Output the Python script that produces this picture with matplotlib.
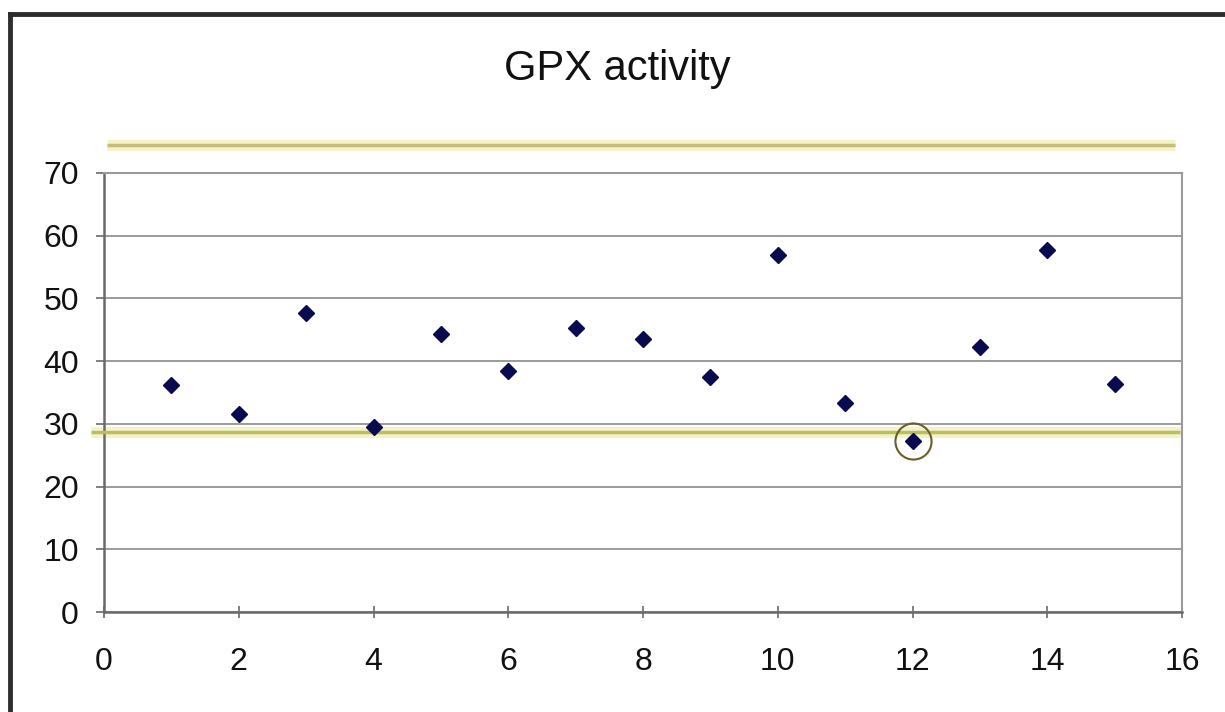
import matplotlib
matplotlib.use("Agg")
import matplotlib.pyplot as plt
from matplotlib.lines import Line2D

plt.rcParams['font.family'] = ['Liberation Sans', 'DejaVu Sans']

# Data
sample = [1, 2, 3, 4, 5, 6, 7, 8, 9, 10, 11, 12, 13, 14, 15]
gpx = [36.2, 31.6, 47.7, 29.5, 44.3, 38.4, 45.3, 43.5, 37.5, 56.9, 33.3, 27.3, 42.3, 57.7, 36.4]
upper_limit = 74.5
lower_limit = 28.7
highlight_x = 12
highlight_y = 27.3
title = "GPX activity"
xticks = [0, 2, 4, 6, 8, 10, 12, 14, 16]
yticks = [0, 10, 20, 30, 40, 50, 60, 70]

fig = plt.figure(figsize=(12.25, 7.12), dpi=100)
ax = fig.add_axes([104/1225, 1-612/712, (1182-104)/1225, (612-173)/712])

ax.set_xlim(0, 16)
ax.set_ylim(0, 70)
ax.set_xticks(xticks)
ax.set_yticks(yticks)
ax.yaxis.grid(True, color='#8a8a8a', linewidth=1.2)
ax.set_axisbelow(True)

for s in ['top', 'right']:
    ax.spines[s].set_color('#9a9a9a')
    ax.spines[s].set_linewidth(1.5)
for s in ['left', 'bottom']:
    ax.spines[s].set_color('#6a6a6a')
    ax.spines[s].set_linewidth(1.8)

ax.tick_params(axis='y', direction='out', length=6, width=1.2, color='#6a6a6a',
               labelsize=23, pad=12, labelcolor='#111111')
ax.tick_params(axis='x', direction='inout', length=8, width=1.2, color='#6a6a6a',
               labelsize=23, pad=21, labelcolor='#111111')

# threshold lines (glow + line)
for yv, x0, x1, c in [(upper_limit, 0.05, 15.9, '#c4bc78'), (lower_limit, -0.2, 15.97, '#b9bf5c')]:
    ax.plot([x0, x1], [yv, yv], color='#f4f2c8', linewidth=8, clip_on=False, zorder=2, solid_capstyle='butt')
    ax.plot([x0, x1], [yv, yv], color=c, linewidth=2.5, clip_on=False, zorder=3, solid_capstyle='butt')

ax.plot(sample, gpx, linestyle='none', marker='D', markersize=8.5,
        color='#0a0a50', zorder=5)
ax.plot([highlight_x], [highlight_y], linestyle='none', marker='o', markersize=26,
        markerfacecolor='none', markeredgecolor='#6b5e2c', markeredgewidth=1.5, zorder=6)

fig.text(617/1225, 1-80/712, title, ha='center', va='baseline', fontsize=30, color='#111111')

# outer chart frame (top and left visible)
fig.add_artist(Line2D([10/1225, 1.0], [1-14/712, 1-14/712], color='#2e2e2e', linewidth=3.5,
                      transform=fig.transFigure))
fig.add_artist(Line2D([10/1225, 10/1225], [1-14/712, 0.0], color='#2e2e2e', linewidth=3.5,
                      transform=fig.transFigure))

fig.savefig('out.png', dpi=100)
